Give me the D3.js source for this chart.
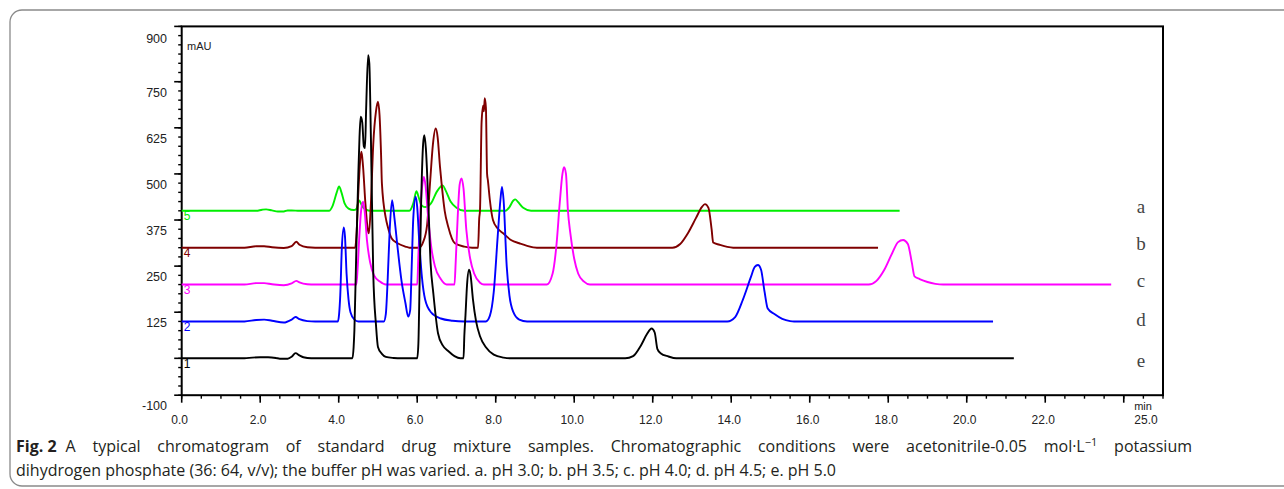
<!DOCTYPE html>
<html>
<head>
<meta charset="utf-8">
<script src="https://cdn.jsdelivr.net/npm/d3@7"></script>
<style>
  html, body { margin: 0; padding: 0; background: #fff; }
  svg { display: block; }
</style>
</head>
<body>
<svg id="fig" width="1284" height="489"></svg>
<script>
// Retention time (min) and detector response (mAU, relative to each trace's own baseline)
const traceNames = ["a", "b", "c", "d", "e"];
const traceNumbers = ["5", "4", "3", "2", "1"];
const traceColors = ["#00ee00", "#7f0000", "#ff00ff", "#0000ff", "#000000"];
const traceOffsets = [400, 300, 200, 100, 0];
const traceEnds = [18.29, 17.74, 23.68, 20.67, 21.2];

// a. pH 3.0
const traceA = [[0,0],[1.9,0],[2.05,3],[2.15,4],[2.3,1],[2.45,-2],[2.6,-2],[2.7,1],[2.8,1],[3.0,0],
  [3.75,0],[3.85,15],[3.95,50],[4.01,66],[4.07,50],[4.15,20],[4.25,6],[4.38,2],[4.45,5],[4.52,28],
  [4.6,12],[4.7,3],[4.8,0],[5.8,0],[5.9,20],[5.98,53],[6.04,36],[6.1,16],[6.2,10],[6.35,20],
  [6.5,52],[6.6,66],[6.65,69],[6.72,56],[6.85,25],[7.0,8],[7.2,0],[8.25,0],[8.35,10],[8.45,28],
  [8.5,31],[8.56,25],[8.7,8],[8.9,0],[18.29,0]];
// b. pH 3.5
const traceB = [[0,0],[1.6,0],[1.9,4],[2.1,4],[2.3,1],[2.6,-1],[2.8,4],[2.92,16],[3.0,8],[3.2,1],[3.4,0],
  [4.42,0],[4.46,50],[4.5,150],[4.55,240],[4.58,260],[4.62,220],[4.68,120],[4.74,50],[4.77,39],
  [4.82,120],[4.88,280],[4.95,370],[5.0,396],[5.04,360],[5.08,250],[5.1,175],[5.2,80],[5.25,57],
  [5.35,25],[5.5,12],[5.7,3],[5.8,0],[6.05,0],[6.15,15],[6.25,60],[6.33,180],[6.4,280],[6.47,323],
  [6.52,300],[6.58,220],[6.62,175],[6.7,100],[6.79,57],[6.96,12],[7.2,3],[7.4,0],[7.55,0],[7.58,80],
  [7.6,102],[7.64,340],[7.68,385],[7.7,370],[7.72,405],[7.75,380],[7.78,200],[7.8,183],[7.85,130],[7.93,75],
  [8.05,52],[8.19,39],[8.4,20],[8.6,12],[8.8,5],[9.05,0],[12.5,0],[12.7,10],[12.9,40],[13.1,80],
  [13.25,110],[13.33,118],[13.42,108],[13.5,50],[13.54,14],[13.7,8],[13.9,2],[14.05,0],[17.74,0]];
// c. pH 4.0
const traceC = [[0,0],[1.6,0],[1.9,4],[2.1,4],[2.3,1],[2.6,-2],[2.8,3],[2.92,10],[3.0,6],[3.2,1],[3.4,0],
  [4.45,0],[4.48,40],[4.52,120],[4.57,200],[4.62,225],[4.66,200],[4.72,120],[4.8,60],[4.9,25],
  [5.05,8],[5.2,0],[6.0,0],[6.03,80],[6.08,200],[6.13,270],[6.17,292],[6.21,270],[6.28,180],
  [6.36,100],[6.45,50],[6.6,15],[6.75,0],[6.95,0],[6.98,60],[7.03,180],[7.08,270],[7.13,288],
  [7.18,260],[7.25,150],[7.35,70],[7.45,30],[7.6,5],[7.7,0],[9.3,0],[9.45,30],[9.55,110],[9.63,220],
  [9.7,300],[9.74,318],[9.79,300],[9.84,200],[9.9,140],[10.0,70],[10.1,30],[10.25,8],[10.4,0],
  [17.5,0],[17.7,10],[17.9,40],[18.1,85],[18.25,115],[18.38,121],[18.5,110],[18.6,60],[18.67,22],
  [18.8,15],[19.0,7],[19.2,2],[19.4,0],[23.68,0]];
// d. pH 4.5
const traceD = [[0,0],[1.6,0],[1.9,4],[2.1,5],[2.3,2],[2.6,-3],[2.8,5],[2.9,12],[3.0,6],[3.2,1],[3.4,0],
  [3.98,0],[4.01,20],[4.04,72],[4.08,200],[4.13,255],[4.16,230],[4.2,130],[4.25,60],[4.3,25],
  [4.4,5],[4.5,0],[5.15,0],[5.2,20],[5.25,120],[5.3,250],[5.36,329],[5.42,280],[5.5,200],[5.6,110],
  [5.7,50],[5.77,13],[5.82,30],[5.86,150],[5.9,280],[5.96,338],[6.0,310],[6.05,220],[6.12,120],
  [6.2,60],[6.35,25],[6.6,8],[6.9,2],[7.2,0],[7.75,0],[7.85,15],[7.95,80],[8.05,230],[8.12,330],
  [8.16,365],[8.2,330],[8.28,150],[8.35,70],[8.45,25],[8.6,5],[8.8,0],[13.9,0],[14.1,12],[14.3,60],
  [14.5,120],[14.6,148],[14.68,153],[14.76,140],[14.85,80],[14.93,35],[15.1,20],[15.3,7],[15.5,1],
  [15.6,0],[20.67,0]];
// e. pH 5.0
const traceE = [[0,0],[1.6,0],[1.8,2],[2.0,3],[2.2,3],[2.4,1],[2.5,-1],[2.7,-1],[2.8,4],[2.9,14],
  [3.0,8],[3.1,3],[3.3,0],[4.35,0],[4.38,30],[4.4,77],[4.45,300],[4.5,500],[4.53,600],[4.56,655],
  [4.6,640],[4.64,575],[4.67,570],[4.7,680],[4.75,822],[4.78,800],[4.82,600],[4.88,231],[4.95,90],
  [5.0,31],[5.1,12],[5.2,4],[5.4,1],[5.6,0],[6.0,0],[6.03,40],[6.06,200],[6.1,420],[6.15,580],
  [6.18,605],[6.22,570],[6.28,430],[6.34,260],[6.41,177],[6.53,68],[6.65,35],[6.79,20],[6.95,6],
  [7.1,0],[7.18,0],[7.2,60],[7.23,117],[7.27,200],[7.32,240],[7.36,225],[7.42,160],[7.5,100],
  [7.6,60],[7.75,30],[7.95,10],[8.2,2],[8.4,0],[11.3,0],[11.5,6],[11.7,35],[11.85,65],[11.97,81],
  [12.05,70],[12.12,25],[12.2,14],[12.4,5],[12.6,0],[21.2,0]];
const traceData = [traceA, traceB, traceC, traceD, traceE];

const yTicksMajor = [-100, 0, 125, 250, 375, 500, 625, 750, 900];
const yTickLabels = ["-100", "", "125", "250", "375", "500", "625", "750", "900"];
const xTickLabelValues = [0, 2, 4, 6, 8, 10, 12, 14, 16, 18, 20, 22, 25];

const captionBold = "Fig. 2";
const captionLine1 = "A typical chromatogram of standard drug mixture samples. Chromatographic conditions were acetonitrile-0.05 mol·L";
const captionSup = "−1";
const captionLine1End = " potassium";
const captionLine2 = "dihydrogen phosphate (36: 64, v/v); the buffer pH was varied. a. pH 3.0; b. pH 3.5; c. pH 4.0; d. pH 4.5; e. pH 5.0";

const svg = d3.select("#fig");

// Rounded figure panel, open towards the right edge
svg.append("rect")
  .attr("x", 10).attr("y", 10)
  .attr("width", 1300).attr("height", 476)
  .attr("rx", 12).attr("ry", 12)
  .attr("fill", "none").attr("stroke", "#8a8a8a").attr("stroke-width", 1.3);

const x = d3.scaleLinear().domain([0, 25]).range([181.7, 1163]);
const y = d3.scaleLinear().domain([-100, 900]).range([395.2, 26.4]);

const axisFont = "'Liberation Sans', Arial, sans-serif";

// Plot frame
svg.append("rect")
  .attr("x", x(0)).attr("y", y(900))
  .attr("width", x(25) - x(0)).attr("height", y(-100) - y(900))
  .attr("fill", "none").attr("stroke", "#000").attr("stroke-width", 2);

// Y axis: minor ticks every 25 mAU, major ticks labelled
const yMinor = d3.range(-100, 901, 25);
svg.append("g").selectAll("line").data(yMinor).join("line")
  .attr("x1", x(0) - 3.5).attr("x2", x(0))
  .attr("y1", d => y(d)).attr("y2", d => y(d))
  .attr("stroke", "#000").attr("stroke-width", 1.4);
svg.append("g").selectAll("line").data(yTicksMajor).join("line")
  .attr("x1", x(0) - 7.5).attr("x2", x(0))
  .attr("y1", d => y(d)).attr("y2", d => y(d))
  .attr("stroke", "#000").attr("stroke-width", 1.6);
svg.append("g").selectAll("text").data(yTicksMajor).join("text")
  .attr("x", 167).attr("y", (d, i) => y(d) + (d === 900 ? 13.5 : 11.5))
  .attr("text-anchor", "end").attr("dominant-baseline", "middle")
  .attr("font-family", axisFont).attr("font-size", 12.5).attr("fill", "#222")
  .text((d, i) => yTickLabels[i]);

// X axis: minor ticks every 0.5 min, major every 2 min
const xMinor = d3.range(0, 25.01, 0.5);
const xMajor = d3.range(0, 24.01, 2);
svg.append("g").selectAll("line").data(xMinor).join("line")
  .attr("x1", d => x(d)).attr("x2", d => x(d))
  .attr("y1", y(-100)).attr("y2", y(-100) + 3.5)
  .attr("stroke", "#000").attr("stroke-width", 1.4);
svg.append("g").selectAll("line").data(xMajor).join("line")
  .attr("x1", d => x(d)).attr("x2", d => x(d))
  .attr("y1", y(-100)).attr("y2", y(-100) + 7.5)
  .attr("stroke", "#000").attr("stroke-width", 1.6);
svg.append("g").selectAll("text").data(xTickLabelValues).join("text")
  .attr("x", d => d === 25 ? x(d) - 17 : x(d) - 2)
  .attr("y", 421)
  .attr("text-anchor", "middle").attr("dominant-baseline", "middle")
  .attr("font-family", axisFont).attr("font-size", 12).attr("fill", "#222")
  .text(d => d.toFixed(1));
svg.append("text")
  .attr("x", x(25) - 20).attr("y", 407)
  .attr("text-anchor", "middle").attr("dominant-baseline", "middle")
  .attr("font-family", axisFont).attr("font-size", 11).attr("fill", "#222")
  .text("min");

svg.append("text")
  .attr("x", 187).attr("y", 47)
  .attr("dominant-baseline", "middle")
  .attr("font-family", axisFont).attr("font-size", 11).attr("fill", "#222")
  .text("mAU");

// Chromatogram traces, stacked by their baseline offsets
const line = d3.line()
  .x(d => x(d[0]))
  .y(d => y(d[1]))
  .curve(d3.curveMonotoneX);

const traceG = svg.append("g");
traceData.forEach((pts, i) => {
  const shifted = pts.filter(p => p[0] <= traceEnds[i]).map(p => [p[0], p[1] + traceOffsets[i]]);
  traceG.append("path")
    .attr("d", line(shifted))
    .attr("fill", "none")
    .attr("stroke", traceColors[i])
    .attr("stroke-width", 1.9)
    .attr("stroke-linejoin", "round");
  traceG.append("text")
    .attr("x", x(0) + 2).attr("y", y(traceOffsets[i]) + 6.5)
    .attr("dominant-baseline", "middle")
    .attr("font-family", axisFont).attr("font-size", 12)
    .attr("fill", traceColors[i])
    .text(traceNumbers[i]);
});

// Trace letters on the right
const letterBaselines = [213, 250, 287, 326, 367];
svg.append("g").selectAll("text").data(traceNames).join("text")
  .attr("x", 1141).attr("y", (d, i) => letterBaselines[i])
  .attr("text-anchor", "middle")
  .attr("font-family", "'Liberation Serif', 'Times New Roman', serif")
  .attr("font-size", 19).attr("fill", "#444")
  .text(d => d);

// Caption; the first line is justified to the text block width
const capFont = "'Open Sans', 'Noto Sans', sans-serif";
const capLeft = 16, capRight = 1192;
const cap1 = svg.append("text")
  .attr("x", capLeft).attr("y", 452)
  .attr("font-family", capFont).attr("font-size", 16).attr("fill", "#231f20");
cap1.append("tspan").attr("font-weight", "bold").text(captionBold);
const body1 = [
  cap1.append("tspan").attr("dx", 9).text(captionLine1),
  cap1.append("tspan").attr("font-size", 11).attr("dy", -6).text(captionSup),
  cap1.append("tspan").attr("dy", 6).text(captionLine1End)
];
const natural = cap1.node().getComputedTextLength() + 9;
const spaces = (captionLine1 + captionLine1End).split(" ").length - 1;
const extra = Math.max(0, (capRight - capLeft - natural) / spaces);
body1.forEach(t => t.attr("word-spacing", extra));

svg.append("text")
  .attr("x", capLeft).attr("y", 476)
  .attr("font-family", capFont).attr("font-size", 16).attr("fill", "#231f20")
  .text(captionLine2);
</script>
</body>
</html>
